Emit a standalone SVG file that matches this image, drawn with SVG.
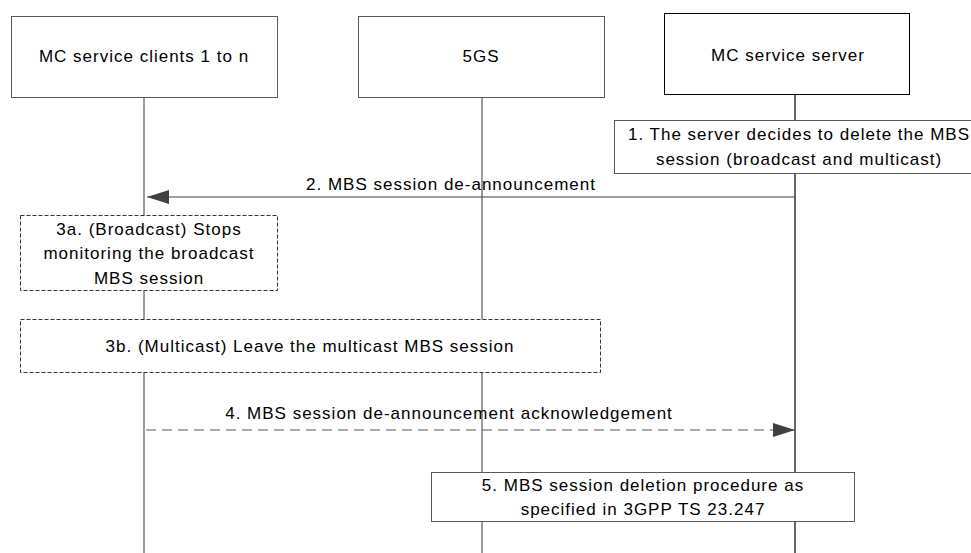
<svg xmlns="http://www.w3.org/2000/svg" width="971" height="553" viewBox="0 0 971 553">
<style>
text{font-family:"Liberation Sans",Arial,sans-serif;font-size:17px;letter-spacing:1px;fill:#000;text-anchor:middle}
.box{fill:#fff;stroke:#595959;stroke-width:1}
.boxk{fill:#fff;stroke:#000;stroke-width:1}
.dbox{fill:#fff;stroke:#333;stroke-width:1;stroke-dasharray:4,2}
.life{stroke:#595959;stroke-width:1.2;fill:none}
.lifek{stroke:#000;stroke-width:1.2;fill:none}
.msg{stroke:#404040;stroke-width:1.2;fill:none}
.dmsg{stroke:#595959;stroke-width:1.2;fill:none;stroke-dasharray:10,6}
</style>
<defs>
<marker id="ah" markerWidth="22" markerHeight="14" refX="22" refY="7" orient="auto" markerUnits="userSpaceOnUse">
<path d="M0,0 L22,7 L0,14 Z" fill="#404040"/>
</marker>
</defs>
<g id="lifelines">
<line class="life" x1="144" y1="92" x2="144" y2="553"/>
<line class="life" x1="482" y1="97" x2="482" y2="553"/>
<line class="lifek" x1="795" y1="94" x2="795" y2="553"/>
</g>
<g id="node-clients">
<rect class="box" x="11.5" y="16.5" width="266" height="81"/>
<text x="144" y="62">MC service clients 1 to n</text>
</g>
<g id="node-5gs">
<rect class="box" x="358.5" y="16.5" width="246" height="81"/>
<text x="481" y="62">5GS</text>
</g>
<g id="node-server">
<rect class="boxk" x="664.5" y="13.5" width="245" height="81"/>
<text x="788" y="61">MC service server</text>
</g>
<g id="node-step1">
<rect class="box" x="614.5" y="120.5" width="362" height="53"/>
<text x="799" y="140">1. The server decides to delete the MBS</text>
<text x="799" y="165">session (broadcast and multicast)</text>
</g>
<g id="node-step3a">
<rect class="dbox" x="20.5" y="215.5" width="257" height="75"/>
<text x="149" y="235">3a. (Broadcast) Stops</text>
<text x="149" y="259">monitoring the broadcast</text>
<text x="149" y="284">MBS session</text>
</g>
<g id="node-step3b">
<rect class="dbox" x="20.5" y="319.5" width="580" height="53"/>
<text x="310" y="352">3b. (Multicast) Leave the multicast MBS session</text>
</g>
<g id="node-step5">
<rect class="box" x="431.5" y="472.5" width="423" height="49"/>
<text x="643" y="491">5. MBS session deletion procedure as</text>
<text x="643" y="515">specified in 3GPP TS 23.247</text>
</g>
<g id="connectors">
<line class="msg" x1="795" y1="197" x2="147" y2="197" marker-end="url(#ah)"/>
<text x="451" y="190">2. MBS session de-announcement</text>
<line class="dmsg" x1="146" y1="430" x2="795" y2="430" marker-end="url(#ah)"/>
<text x="449" y="419">4. MBS session de-announcement acknowledgement</text>
</g>
</svg>
